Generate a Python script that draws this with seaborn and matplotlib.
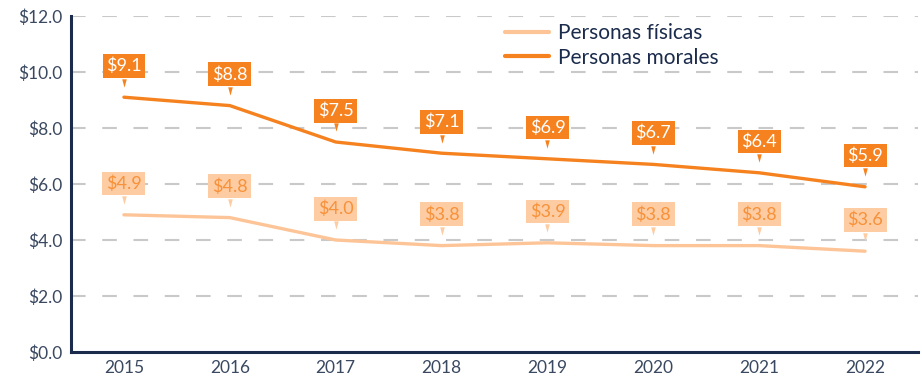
import matplotlib
matplotlib.use("Agg")
import matplotlib.pyplot as plt
from matplotlib.transforms import ScaledTranslation
import seaborn as sns
import pandas as pd
import numpy as np

# Values (billions of pesos) by year
years = ["2015", "2016", "2017", "2018", "2019", "2020", "2021", "2022"]
fisicas = [4.9, 4.8, 4.0, 3.8, 3.9, 3.8, 3.8, 3.6]
morales = [9.1, 8.8, 7.5, 7.1, 6.9, 6.7, 6.4, 5.9]
series_names = ["Personas físicas", "Personas morales"]
y_ticks = [0, 2, 4, 6, 8, 10, 12]

navy = "#1B2B4B"
label_col = "#3A4860"
c_fis = "#FDC597"
c_fis_box = "#FDCCA2"
c_mor = "#F5821F"
c_fis_text = "#F7913A"

sns.set_theme(style="white")
plt.rcParams["font.family"] = ["Lato", "DejaVu Sans"]

df = pd.DataFrame({
    "year": years * 2,
    "value": fisicas + morales,
    "serie": [series_names[0]] * len(years) + [series_names[1]] * len(years),
})

fig = plt.figure(figsize=(9.22, 3.76), dpi=100)
ax = fig.add_axes([71 / 922, 1 - 352 / 376, (918 - 71) / 922, (352 - 16) / 376])

sns.lineplot(data=df, x="year", y="value", hue="serie", sort=False,
             palette=[c_fis, c_mor], linewidth=2.4, ax=ax, zorder=3)

ax.set_xlim(-0.5, len(years) - 0.5)
ax.set_ylim(0, 12)
ax.set_yticks(y_ticks)
ax.set_yticklabels([f"${v:.1f}" for v in y_ticks])
ax.set_xlabel("")
ax.set_ylabel("")

# dashed horizontal grid
for v in y_ticks[1:]:
    ax.axhline(v, color="#C9C9C9", lw=1.5, dashes=(7, 8), zorder=1)

for s in ["top", "right"]:
    ax.spines[s].set_visible(False)
for s in ["left", "bottom"]:
    ax.spines[s].set_color(navy)
    ax.spines[s].set_linewidth(2.2)

ax.tick_params(axis="y", direction="inout", length=10, width=2.2, color=navy,
               labelsize=12.5, labelcolor=label_col, pad=1)
ax.tick_params(axis="x", which="major", length=0, labelsize=12.5,
               labelcolor=label_col, pad=6)
ax.set_xticks(np.arange(-0.5, len(years), 1.0), minor=True)
ax.tick_params(axis="x", which="minor", direction="inout", length=14, width=2.2,
               color=navy)

# narrow downward pointer for the callouts
pointer = [(-0.55, 1.0), (0.55, 1.0), (0.0, -1.0), (-0.55, 1.0)]

def callout(i, v, face, txt_col):
    ax.annotate(f"${v:.1f}", xy=(i, v), xytext=(0, 22.5), textcoords="offset points",
                ha="center", va="center", fontsize=13, color=txt_col, zorder=5,
                bbox=dict(boxstyle="square,pad=0.2", fc=face, ec="none"))
    ax.plot([i], [v], marker=pointer, markersize=6, color=face, mew=0, zorder=5,
            transform=ax.transData + ScaledTranslation(0, 10.5 / 72, fig.dpi_scale_trans),
            clip_on=False)

for i, v in enumerate(morales):
    callout(i, v, c_mor, "white")
for i, v in enumerate(fisicas):
    callout(i, v, c_fis_box, c_fis_text)

leg = ax.legend(loc="upper left", bbox_to_anchor=(505 / 922, 1 - 23 / 376),
                bbox_transform=fig.transFigure, frameon=False, fontsize=15,
                handlelength=2.1, handletextpad=0.45, labelspacing=0.22,
                borderaxespad=0, borderpad=0)
for t in leg.get_texts():
    t.set_color(navy)
for h in leg.get_lines():
    h.set_linewidth(3)

fig.savefig("out.png", dpi=100)
